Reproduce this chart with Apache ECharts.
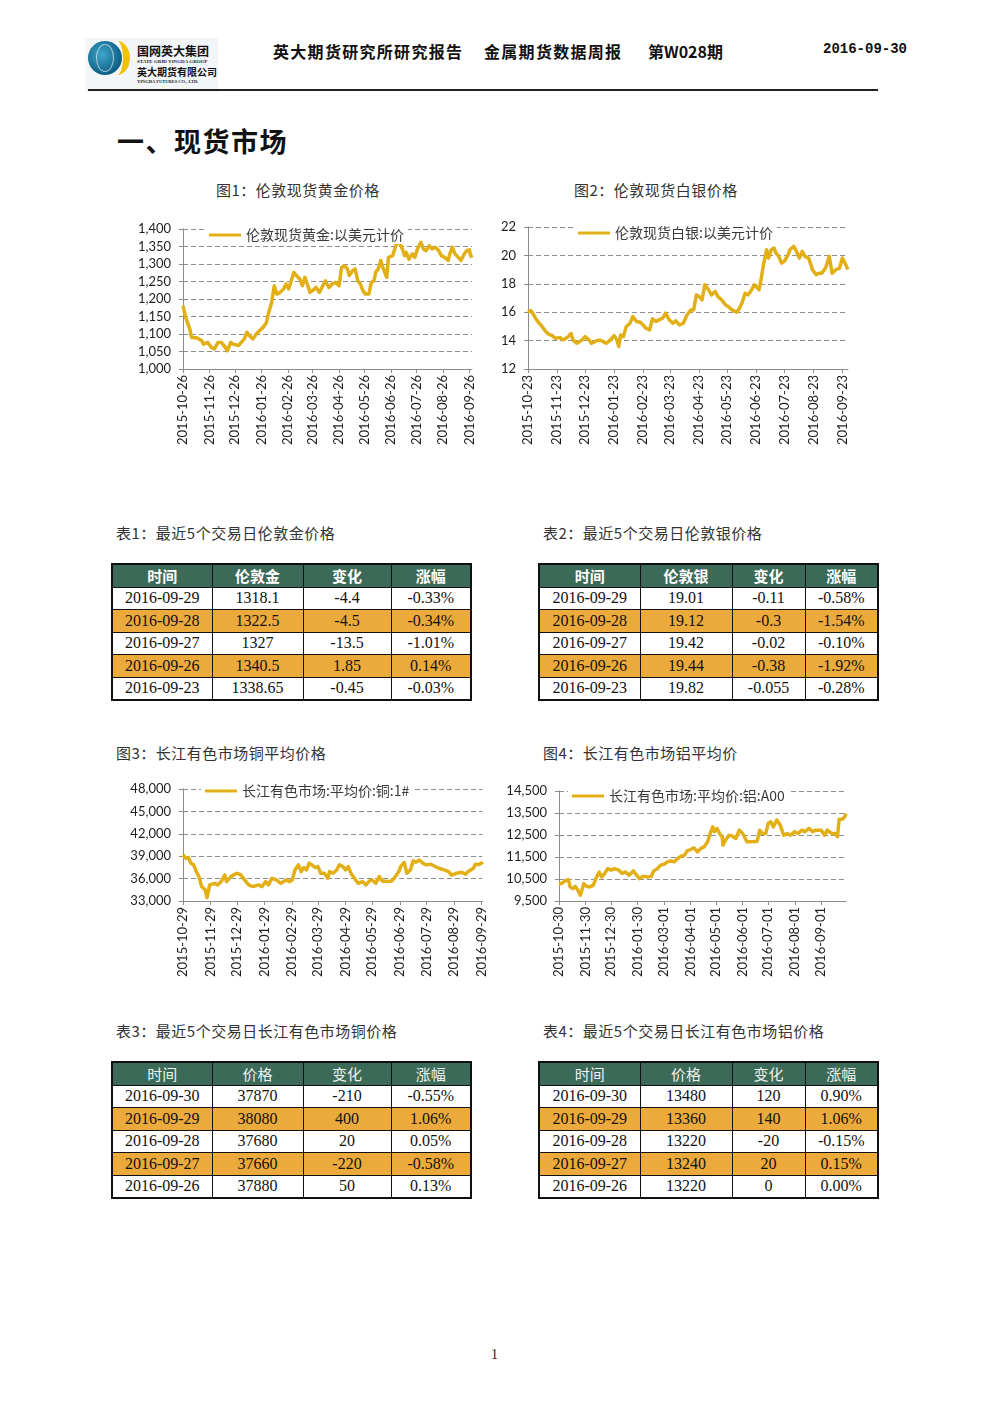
<!DOCTYPE html>
<html><head><meta charset="utf-8">
<script src="https://cdn.jsdelivr.net/npm/echarts@6/dist/echarts.min.js"></script>
<style>
html,body{margin:0;padding:0;background:#fff;}
body{width:992px;height:1403px;position:relative;overflow:hidden;font-family:"Noto Sans CJK SC",sans-serif;color:#222;}
.abs{position:absolute;white-space:nowrap;}
.cap{font-size:15px;line-height:15px;color:#333;letter-spacing:0.5px;}
table.tb{position:absolute;border-collapse:collapse;table-layout:fixed;border:2px solid #111;}
table.tb td{border:1px solid #111;height:21.5px;padding:0;text-align:center;font-family:"Liberation Serif",serif;font-size:16px;line-height:20px;color:#111;}
table.tb tr.hd td{background:#3C6A58;color:#fff;font-family:"Noto Sans CJK SC",sans-serif;font-size:15px;font-weight:bold;}
table.tb.thin tr.hd td{font-weight:normal;color:#eef2ee;}
table.tb tr.or td{background:#EBAA3B;}
.chart{position:absolute;}
</style>
</head><body>

<!-- header -->
<div class="abs" style="left:85px;top:38px;width:133px;height:54px;background:#f3f6f9;"></div>
<div class="abs" style="left:88px;top:41px;width:34px;height:34px;border-radius:50%;background:radial-gradient(circle at 40% 40%,#3fa7c9,#0e5f86 70%);"></div>
<div class="abs" style="left:104px;top:41px;width:26px;height:34px;border-radius:50%;border-right:7px solid #f2c200;box-sizing:border-box;"></div>
<div class="abs" style="left:96px;top:44px;width:18px;height:28px;border-radius:50%;border:1px solid rgba(255,255,255,0.6);box-sizing:border-box;"></div>
<div class="abs" style="left:137px;top:44px;font-size:12px;line-height:13px;font-weight:bold;color:#111;">国网英大集团</div>
<div class="abs" style="left:137px;top:59px;font-size:5px;line-height:5px;font-weight:bold;color:#222;font-family:'Liberation Serif',serif;">STATE GRID YINGDA GROUP</div>
<div class="abs" style="left:137px;top:66px;font-size:10px;line-height:11px;font-weight:bold;color:#111;">英大期货有限公司</div>
<div class="abs" style="left:137px;top:79px;font-size:4.5px;line-height:5px;font-weight:bold;color:#222;font-family:'Liberation Serif',serif;">YINGDA FUTURES CO., LTD.</div>

<div class="abs" style="left:273px;top:43px;font-size:16px;line-height:16px;font-weight:bold;color:#111;letter-spacing:1.3px;">英大期货研究所研究报告</div>
<div class="abs" style="left:484px;top:43px;font-size:16px;line-height:16px;font-weight:bold;color:#111;letter-spacing:1.3px;">金属期货数据周报</div>
<div class="abs" style="left:648px;top:43px;font-size:16px;line-height:16px;font-weight:bold;color:#111;">第W028期</div>
<div class="abs" style="left:823px;top:42px;font-size:14px;line-height:15px;font-weight:bold;color:#111;font-family:'Liberation Mono',monospace;">2016-09-30</div>
<div class="abs" style="left:88px;top:89px;width:790px;height:2px;background:#222;"></div>

<div class="abs" style="left:117px;top:127px;font-size:27px;line-height:28px;font-weight:bold;color:#111;letter-spacing:1.5px;">一、现货市场</div>

<div class="abs cap" style="left:216px;top:182px;">图1：伦敦现货黄金价格</div>
<div class="abs cap" style="left:574px;top:182px;">图2：伦敦现货白银价格</div>
<div class="abs cap" style="left:116px;top:525px;">表1：最近5个交易日伦敦金价格</div>
<div class="abs cap" style="left:543px;top:525px;">表2：最近5个交易日伦敦银价格</div>
<div class="abs cap" style="left:116px;top:745px;">图3：长江有色市场铜平均价格</div>
<div class="abs cap" style="left:543px;top:745px;">图4：长江有色市场铝平均价</div>
<div class="abs cap" style="left:116px;top:1023px;">表3：最近5个交易日长江有色市场铜价格</div>
<div class="abs cap" style="left:543px;top:1023px;">表4：最近5个交易日长江有色市场铝价格</div>
<div class="abs" style="left:491px;top:1347px;font-size:14px;line-height:15px;font-family:'Liberation Serif',serif;color:#222;">1</div>

<div id="c1" class="chart" style="left:100px;top:210px;width:390px;height:250px;"></div>
<div id="c2" class="chart" style="left:480px;top:210px;width:390px;height:250px;"></div>
<div id="c3" class="chart" style="left:100px;top:775px;width:388px;height:210px;"></div>
<div id="c4" class="chart" style="left:495px;top:780px;width:375px;height:205px;"></div>

<div id="tables"></div>

<script>
// ---------------- DATA ----------------
const goldName = '伦敦现货黄金:以美元计价';
const goldTicks = ['2015-10-26','2015-11-26','2015-12-26','2016-01-26','2016-02-26','2016-03-26','2016-04-26','2016-05-26','2016-06-26','2016-07-26','2016-08-26','2016-09-26'];
const goldDates = ['2015-10-26','2015-10-29','2015-10-31','2015-11-03','2015-11-05','2015-11-11','2015-11-17','2015-11-19','2015-11-24','2015-11-28','2015-12-02','2015-12-06','2015-12-10','2015-12-13','2015-12-17','2015-12-21','2015-12-24','2015-12-30','2016-01-01','2016-01-06','2016-01-09','2016-01-12','2016-01-16','2016-01-20','2016-01-24','2016-01-28','2016-02-01','2016-02-03','2016-02-07','2016-02-10','2016-02-13','2016-02-17','2016-02-21','2016-02-24','2016-02-27','2016-03-01','2016-03-04','2016-03-07','2016-03-11','2016-03-14','2016-03-17','2016-03-19','2016-03-23','2016-03-26','2016-03-30','2016-04-03','2016-04-07','2016-04-10','2016-04-14','2016-04-18','2016-04-22','2016-04-26','2016-04-29','2016-05-02','2016-05-06','2016-05-08','2016-05-12','2016-05-15','2016-05-18','2016-05-21','2016-05-24','2016-05-27','2016-05-31','2016-06-03','2016-06-06','2016-06-08','2016-06-11','2016-06-14','2016-06-17','2016-06-21','2016-06-23','2016-06-28','2016-07-01','2016-07-04','2016-07-08','2016-07-12','2016-07-14','2016-07-17','2016-07-21','2016-07-24','2016-07-27','2016-07-31','2016-08-03','2016-08-06','2016-08-10','2016-08-13','2016-08-17','2016-08-21','2016-08-24','2016-08-28','2016-09-01','2016-09-03','2016-09-06','2016-09-09','2016-09-13','2016-09-16','2016-09-20','2016-09-23','2016-09-26','2016-09-27','2016-09-28','2016-09-29'];
const goldValues = [1181,1148,1143,1114,1090,1089,1081,1071,1076,1062,1057,1076,1076,1067,1052,1076,1071,1067,1062,1086,1105,1095,1086,1100,1110,1119,1133,1157,1190,1238,1214,1219,1229,1243,1229,1252,1276,1267,1257,1238,1262,1248,1219,1224,1233,1219,1238,1252,1233,1243,1248,1238,1290,1295,1286,1267,1281,1286,1252,1243,1224,1214,1214,1248,1252,1276,1286,1310,1286,1262,1319,1324,1348,1367,1352,1324,1333,1314,1329,1319,1343,1362,1343,1338,1352,1343,1348,1338,1324,1319,1310,1329,1348,1329,1319,1310,1329,1338.65,1340.5,1327,1322.5,1318.1];

const silverName = '伦敦现货白银:以美元计价';
const silverTicks = ['2015-10-23','2015-11-23','2015-12-23','2016-01-23','2016-02-23','2016-03-23','2016-04-23','2016-05-23','2016-06-23','2016-07-23','2016-08-23','2016-09-23'];
const silverDates = ['2015-10-23','2015-10-26','2015-10-28','2015-10-31','2015-11-03','2015-11-07','2015-11-11','2015-11-14','2015-11-18','2015-11-21','2015-11-26','2015-11-28','2015-11-30','2015-12-02','2015-12-05','2015-12-08','2015-12-10','2015-12-14','2015-12-16','2015-12-20','2015-12-23','2015-12-27','2015-12-30','2016-01-04','2016-01-08','2016-01-11','2016-01-15','2016-01-19','2016-01-23','2016-01-26','2016-01-28','2016-01-30','2016-02-02','2016-02-05','2016-02-09','2016-02-12','2016-02-16','2016-02-20','2016-02-23','2016-02-26','2016-03-01','2016-03-04','2016-03-08','2016-03-11','2016-03-15','2016-03-18','2016-03-22','2016-03-26','2016-03-29','2016-04-02','2016-04-06','2016-04-10','2016-04-14','2016-04-17','2016-04-20','2016-04-23','2016-04-26','2016-04-29','2016-05-03','2016-05-06','2016-05-10','2016-05-13','2016-05-17','2016-05-21','2016-05-24','2016-05-28','2016-06-02','2016-06-05','2016-06-08','2016-06-11','2016-06-14','2016-06-17','2016-06-21','2016-06-26','2016-06-28','2016-07-01','2016-07-04','2016-07-06','2016-07-09','2016-07-12','2016-07-14','2016-07-17','2016-07-20','2016-07-23','2016-07-27','2016-07-29','2016-08-02','2016-08-05','2016-08-08','2016-08-11','2016-08-14','2016-08-18','2016-08-22','2016-08-26','2016-08-29','2016-09-01','2016-09-05','2016-09-09','2016-09-12','2016-09-16','2016-09-20','2016-09-23','2016-09-26','2016-09-27','2016-09-28','2016-09-29'];
const silverValues = [16.0,16.12,15.93,15.58,15.3,14.99,14.64,14.45,14.35,14.16,14.21,14.35,14.05,14.16,14.28,14.5,14.05,13.81,13.93,14.05,14.28,14.05,13.81,13.98,14.05,13.93,13.81,14.05,14.35,14.05,13.58,14.4,14.28,14.99,15.22,15.69,15.34,15.29,15.1,14.87,14.75,15.53,15.34,15.46,15.58,15.93,15.46,15.22,15.39,15.1,15.22,15.81,16.16,16.16,17.22,17.1,16.87,17.93,17.58,17.22,17.46,17.1,16.87,16.52,16.4,16.16,16.0,16.28,16.7,17.34,17.22,17.46,17.93,17.58,18.28,19.46,20.4,19.81,20.4,20.52,20.16,19.93,19.46,19.58,20.05,20.4,20.64,20.28,19.81,20.28,19.93,19.81,18.99,18.64,18.75,18.75,19.11,19.93,18.75,18.99,19.11,19.82,19.44,19.42,19.12,19.01];

const copperName = '长江有色市场:平均价:铜:1#';
const copperTicks = ['2015-10-29','2015-11-29','2015-12-29','2016-01-29','2016-02-29','2016-03-29','2016-04-29','2016-05-29','2016-06-29','2016-07-29','2016-08-29','2016-09-29'];
const copperDates = ['2015-10-29','2015-11-01','2015-11-04','2015-11-07','2015-11-10','2015-11-13','2015-11-16','2015-11-19','2015-11-23','2015-11-25','2015-11-28','2015-11-30','2015-12-04','2015-12-07','2015-12-11','2015-12-15','2015-12-17','2015-12-22','2015-12-25','2015-12-29','2016-01-02','2016-01-05','2016-01-11','2016-01-16','2016-01-22','2016-01-26','2016-01-30','2016-02-02','2016-02-06','2016-02-11','2016-02-16','2016-02-22','2016-02-26','2016-02-29','2016-03-03','2016-03-07','2016-03-10','2016-03-13','2016-03-16','2016-03-19','2016-03-22','2016-03-26','2016-03-29','2016-04-01','2016-04-05','2016-04-09','2016-04-11','2016-04-15','2016-04-19','2016-04-22','2016-04-26','2016-04-29','2016-05-02','2016-05-05','2016-05-09','2016-05-13','2016-05-18','2016-05-22','2016-05-26','2016-05-29','2016-06-02','2016-06-06','2016-06-09','2016-06-15','2016-06-20','2016-06-24','2016-06-28','2016-06-30','2016-07-04','2016-07-07','2016-07-11','2016-07-14','2016-07-17','2016-07-21','2016-07-25','2016-07-29','2016-08-03','2016-08-08','2016-08-12','2016-08-18','2016-08-23','2016-08-26','2016-08-29','2016-09-01','2016-09-07','2016-09-11','2016-09-14','2016-09-20','2016-09-22','2016-09-26','2016-09-27','2016-09-28','2016-09-29','2016-09-30'];
const copperValues = [39180,38730,38820,38060,37840,36940,36270,34930,34470,33450,35150,34930,35370,35150,35600,36490,35600,36270,36490,36720,36490,36040,35150,34930,35150,34930,35600,35150,36040,35820,35370,35820,35600,35820,37160,37840,36940,37480,37160,38060,37840,37480,37610,36720,36720,36040,36940,36720,37160,37840,37610,37160,37610,36720,36040,35370,35600,35150,35690,35820,35370,36270,35690,35600,35690,36270,36940,37610,38190,36720,37160,38370,38190,38500,38060,37840,37930,37610,37390,37160,36940,36490,36580,36720,36850,36580,36940,37390,37930,37880,37660,37680,38080,37870];

const aluName = '长江有色市场:平均价:铝:A00';
const aluTicks = ['2015-10-30','2015-11-30','2015-12-30','2016-01-30','2016-03-01','2016-04-01','2016-05-01','2016-06-01','2016-07-01','2016-08-01','2016-09-01'];
const aluDates = ['2015-10-30','2015-11-03','2015-11-07','2015-11-10','2015-11-12','2015-11-15','2015-11-18','2015-11-21','2015-11-24','2015-11-26','2015-11-28','2015-12-01','2015-12-05','2015-12-09','2015-12-13','2015-12-16','2015-12-19','2015-12-23','2015-12-26','2015-12-30','2016-01-03','2016-01-08','2016-01-12','2016-01-16','2016-01-20','2016-01-25','2016-01-29','2016-02-01','2016-02-05','2016-02-11','2016-02-15','2016-02-18','2016-02-22','2016-02-26','2016-03-01','2016-03-05','2016-03-09','2016-03-13','2016-03-17','2016-03-21','2016-03-25','2016-03-28','2016-04-01','2016-04-05','2016-04-09','2016-04-13','2016-04-17','2016-04-21','2016-04-24','2016-04-27','2016-04-29','2016-05-02','2016-05-05','2016-05-08','2016-05-09','2016-05-12','2016-05-16','2016-05-20','2016-05-24','2016-05-28','2016-06-01','2016-06-03','2016-06-06','2016-06-12','2016-06-18','2016-06-21','2016-06-24','2016-06-28','2016-07-01','2016-07-04','2016-07-07','2016-07-11','2016-07-15','2016-07-19','2016-07-23','2016-07-27','2016-08-01','2016-08-05','2016-08-09','2016-08-13','2016-08-18','2016-08-22','2016-08-26','2016-09-01','2016-09-05','2016-09-08','2016-09-13','2016-09-17','2016-09-20','2016-09-21','2016-09-22','2016-09-23','2016-09-26','2016-09-27','2016-09-28','2016-09-29','2016-09-30'];
const aluValues = [10260,10320,10440,10470,10140,10060,10170,9990,9760,9680,10290,10170,10140,10210,10590,10820,10590,10780,10970,10900,10970,10900,10750,10820,10670,10870,10670,10520,10620,10590,10620,10870,10970,11130,11170,11280,11320,11280,11430,11540,11580,11780,11840,11920,11730,11890,11960,12190,12570,12870,12650,12800,12570,12420,12040,12270,12490,12450,12340,12720,12570,12420,12190,12190,12220,12720,12570,12570,13030,13100,12870,13180,12950,12490,12570,12490,12650,12570,12720,12650,12800,12650,12720,12720,12490,12720,12570,12570,12420,12400,13220,13220,13220,13240,13220,13360,13480];

// tables
const t1Head = ['时间','伦敦金','变化','涨幅'];
const t1Dates = ['2016-09-29','2016-09-28','2016-09-27','2016-09-26','2016-09-23'];
const t1Price = ['1318.1','1322.5','1327','1340.5','1338.65'];
const t1Chg = ['-4.4','-4.5','-13.5','1.85','-0.45'];
const t1Pct = ['-0.33%','-0.34%','-1.01%','0.14%','-0.03%'];

const t2Head = ['时间','伦敦银','变化','涨幅'];
const t2Dates = ['2016-09-29','2016-09-28','2016-09-27','2016-09-26','2016-09-23'];
const t2Price = ['19.01','19.12','19.42','19.44','19.82'];
const t2Chg = ['-0.11','-0.3','-0.02','-0.38','-0.055'];
const t2Pct = ['-0.58%','-1.54%','-0.10%','-1.92%','-0.28%'];

const t3Head = ['时间','价格','变化','涨幅'];
const t3Dates = ['2016-09-30','2016-09-29','2016-09-28','2016-09-27','2016-09-26'];
const t3Price = ['37870','38080','37680','37660','37880'];
const t3Chg = ['-210','400','20','-220','50'];
const t3Pct = ['-0.55%','1.06%','0.05%','-0.58%','0.13%'];

const t4Head = ['时间','价格','变化','涨幅'];
const t4Dates = ['2016-09-30','2016-09-29','2016-09-28','2016-09-27','2016-09-26'];
const t4Price = ['13480','13360','13220','13240','13220'];
const t4Chg = ['120','140','-20','20','0'];
const t4Pct = ['0.90%','1.06%','-0.15%','0.15%','0.00%'];

// ---------------- BUILD ----------------
function dayRange(start, end) {
  const out = [];
  let d = new Date(start + 'T00:00:00Z');
  const e = new Date(end + 'T00:00:00Z');
  while (d <= e) { out.push(d.toISOString().slice(0, 10)); d = new Date(d.getTime() + 86400000); }
  return out;
}
const LINE = '#E2B016';
function makeChart(id, cfg) {
  const cats = dayRange(cfg.start, cfg.end);
  const map = {};
  cfg.dates.forEach((d, i) => { map[d] = cfg.values[i]; });
  const data = cats.map(d => (d in map ? map[d] : null));
  const tickSet = new Set(cfg.ticks);
  const iv = (idx, val) => tickSet.has(val);
  const ch = echarts.init(document.getElementById(id), null, { renderer: 'canvas' });
  ch.setOption({
    animation: false,
    grid: cfg.grid,
    legend: {
      data: [cfg.name], left: cfg.legend[0], top: cfg.legend[1],
      icon: 'rect', itemWidth: 32, itemHeight: 3,
      backgroundColor: '#fff', padding: [2, 4],
      textStyle: { fontSize: cfg.legendSize || 14, color: '#3a3a3a', fontFamily: 'Noto Sans CJK SC' }
    },
    xAxis: {
      type: 'category', data: cats, boundaryGap: false,
      axisLine: { lineStyle: { color: '#8c8c8c', width: 1 } },
      axisTick: { interval: iv, length: 4, lineStyle: { color: '#8c8c8c' } },
      axisLabel: { interval: iv, rotate: 90, fontSize: 13, color: '#1e1e1e', fontFamily: 'Lato', margin: 6 },
      splitLine: { show: false }
    },
    yAxis: {
      type: 'value', min: cfg.min, max: cfg.max, interval: cfg.interval,
      axisLine: { show: true, lineStyle: { color: '#8c8c8c', width: 1 } },
      axisTick: { show: true, length: 4, lineStyle: { color: '#8c8c8c' } },
      axisLabel: { fontSize: 13, color: '#1e1e1e', fontFamily: 'Lato', margin: 12,
        formatter: v => v.toLocaleString('en-US') },
      splitLine: { lineStyle: { type: [5, 3], color: '#8f8f8f', width: 1 } }
    },
    series: [{
      type: 'line', name: cfg.name, data: data, connectNulls: true,
      symbol: 'none', showSymbol: false,
      lineStyle: { color: LINE, width: 3.5, join: 'round' }, itemStyle: { color: LINE }
    }]
  });
}

makeChart('c1', { name: goldName, dates: goldDates, values: goldValues, ticks: goldTicks,
  start: '2015-10-26', end: '2016-09-29', min: 1000, max: 1400, interval: 50,
  grid: { left: 83, top: 19, right: 18, bottom: 91 }, legend: [105, 16] });
makeChart('c2', { name: silverName, dates: silverDates, values: silverValues, ticks: silverTicks,
  start: '2015-10-23', end: '2016-09-29', min: 12, max: 22, interval: 2,
  grid: { left: 48, top: 17, right: 22, bottom: 91 }, legend: [94, 14] });
makeChart('c3', { name: copperName, dates: copperDates, values: copperValues, ticks: copperTicks,
  start: '2015-10-29', end: '2016-09-30', min: 33000, max: 48000, interval: 3000,
  grid: { left: 83, top: 14, right: 1, bottom: 84 }, legend: [101, 7], legendSize: 14 });
makeChart('c4', { name: aluName, dates: aluDates, values: aluValues, ticks: aluTicks,
  start: '2015-10-30', end: '2016-09-30', min: 9500, max: 14500, interval: 1000,
  grid: { left: 64, top: 11, right: 24, bottom: 84 }, legend: [73, 7], legendSize: 14 });

function makeTable(left, top, widths, head, cols, thin) {
  let h = '<table class="tb' + (thin ? ' thin' : '') + '" style="left:' + left + 'px;top:' + top + 'px;width:' +
    widths.reduce((a, b) => a + b, 0) + 'px;"><colgroup>' + widths.map(w => '<col style="width:' + w + 'px">').join('') + '</colgroup>';
  h += '<tr class="hd">' + head.map(x => '<td>' + x + '</td>').join('') + '</tr>';
  for (let r = 0; r < cols[0].length; r++) {
    h += '<tr' + (r % 2 === 1 ? ' class="or"' : '') + '>' + cols.map(c => '<td>' + c[r] + '</td>').join('') + '</tr>';
  }
  return h + '</table>';
}
document.getElementById('tables').innerHTML =
  makeTable(111, 563, [100, 91, 88, 80], t1Head, [t1Dates, t1Price, t1Chg, t1Pct], false) +
  makeTable(538, 563, [101, 92, 73, 73], t2Head, [t2Dates, t2Price, t2Chg, t2Pct], false) +
  makeTable(111, 1061, [100, 91, 88, 80], t3Head, [t3Dates, t3Price, t3Chg, t3Pct], true) +
  makeTable(538, 1061, [101, 92, 73, 73], t4Head, [t4Dates, t4Price, t4Chg, t4Pct], true);
</script>
</body></html>
